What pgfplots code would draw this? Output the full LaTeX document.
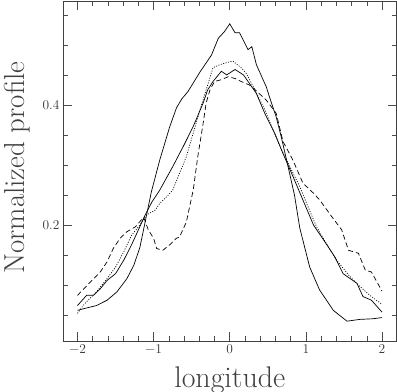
\documentclass[border=0pt]{standalone}
\usepackage{pgfplots}
\pgfplotsset{compat=1.18}
\newcommand{\tl}[1]{{\fontsize{13.5}{15}\selectfont #1}}
\begin{document}
\begin{tikzpicture}
\begin{axis}[
    scale only axis,
    width=333.5bp, height=340bp,
    xmin=-2.19, xmax=2.19,
    ymin=0.007, ymax=0.573,
    xtick={-2,-1,0,1,2},
    xticklabels={\tl{−2},\tl{−1},\tl{0},\tl{1},\tl{2}},
    minor xtick={-1.8,-1.6,-1.4,-1.2,-0.8,-0.6,-0.4,-0.2,0.2,0.4,0.6,0.8,1.2,1.4,1.6,1.8},
    ytick={0.2,0.4},
    yticklabels={\tl{0.2},\tl{0.4}},
    minor ytick={0.05,0.1,0.15,0.25,0.3,0.35,0.45,0.5,0.55},
    xtick pos=both, ytick pos=both,
    tick align=inside,
    major tick length=9bp,
    minor tick length=5bp,
    every tick/.style={black!70, line width=0.6bp},
    axis line style={black!75, line width=0.8bp},
    xticklabel style={text=black!80},
    yticklabel style={text=black!80},
    every axis x label/.style={at={(axis description cs:0.5,-0.115)}, anchor=center,
        font=\fontsize{30}{34}\selectfont, text=black!75},
    every axis y label/.style={at={(axis description cs:-0.138,0.51)}, rotate=90, anchor=center,
        font=\fontsize{29}{33}\selectfont, text=black!75},
    xlabel={longitude},
    ylabel={Normalized profile},
]
% narrow solid
\addplot[black, line width=0.7bp] coordinates {
(-2.00,0.058) (-1.88,0.062) (-1.75,0.066) (-1.61,0.075) (-1.48,0.089)
(-1.35,0.111) (-1.26,0.133) (-1.18,0.163) (-1.10,0.212) (-1.03,0.255)
(-0.92,0.308) (-0.79,0.363) (-0.70,0.395) (-0.63,0.410) (-0.55,0.422)
(-0.39,0.455) (-0.24,0.483) (-0.15,0.511) (-0.07,0.522) (0.00,0.535)
(0.07,0.520) (0.13,0.520) (0.24,0.492) (0.29,0.497) (0.35,0.467)
(0.48,0.430) (0.53,0.410) (0.61,0.380) (0.68,0.345) (0.77,0.295)
(0.85,0.250) (0.92,0.195) (1.05,0.130) (1.18,0.092) (1.36,0.058)
(1.54,0.040) (1.71,0.043) (1.88,0.044) (2.00,0.046)
};
% wide solid
\addplot[black, line width=0.7bp] coordinates {
(-2.00,0.066) (-1.88,0.083) (-1.79,0.083) (-1.70,0.094) (-1.61,0.108)
(-1.50,0.119) (-1.39,0.142) (-1.29,0.167) (-1.20,0.192) (-1.11,0.217)
(-1.02,0.239) (-0.92,0.258) (-0.75,0.297) (-0.61,0.331) (-0.48,0.364)
(-0.35,0.403) (-0.29,0.425) (-0.22,0.439) (-0.11,0.456) (-0.04,0.450)
(0.07,0.459) (0.18,0.450) (0.29,0.430) (0.35,0.419) (0.46,0.386)
(0.59,0.353) (0.70,0.319) (0.83,0.281) (0.96,0.242) (1.10,0.200)
(1.25,0.172) (1.38,0.147) (1.49,0.119) (1.67,0.103) (1.75,0.081)
(1.86,0.075) (2.00,0.055)
};
% dotted
\addplot[black, line width=0.7bp, dash pattern=on 1bp off 1.5bp] coordinates {
(-2.00,0.053) (-1.92,0.067) (-1.75,0.089) (-1.61,0.111) (-1.50,0.130)
(-1.39,0.156) (-1.29,0.183) (-1.18,0.200) (-1.09,0.217) (-0.98,0.225)
(-0.92,0.236) (-0.83,0.247) (-0.75,0.258) (-0.66,0.286) (-0.57,0.314)
(-0.48,0.353) (-0.39,0.392) (-0.31,0.425) (-0.22,0.462) (-0.13,0.467)
(-0.05,0.470) (0.04,0.473) (0.15,0.462) (0.22,0.452) (0.31,0.430)
(0.46,0.392) (0.57,0.358) (0.68,0.325) (0.79,0.297) (0.92,0.264)
(1.01,0.236) (1.14,0.197) (1.27,0.169) (1.40,0.142) (1.56,0.117)
(1.69,0.100) (1.84,0.083) (2.00,0.068)
};
% dashed
\addplot[black, line width=0.7bp, dash pattern=on 5bp off 3bp] coordinates {
(-2.00,0.083) (-1.87,0.100) (-1.70,0.122) (-1.61,0.139) (-1.53,0.161)
(-1.44,0.178) (-1.35,0.189) (-1.24,0.197) (-1.13,0.213) (-1.07,0.192)
(-1.00,0.178) (-0.96,0.161) (-0.88,0.158) (-0.79,0.167) (-0.70,0.178)
(-0.66,0.180) (-0.57,0.205) (-0.48,0.258) (-0.42,0.314) (-0.35,0.369)
(-0.31,0.403) (-0.26,0.425) (-0.20,0.439) (-0.11,0.442) (-0.02,0.447)
(0.07,0.444) (0.15,0.439) (0.26,0.433) (0.31,0.428) (0.48,0.408)
(0.61,0.386) (0.70,0.339) (0.83,0.308) (0.96,0.270) (1.10,0.253)
(1.18,0.242) (1.34,0.214) (1.47,0.192) (1.56,0.158) (1.69,0.153)
(1.78,0.125) (1.86,0.122) (2.00,0.090)
};
\end{axis}
\pgfresetboundingbox
\path[use as bounding box] ([xshift=-63bp,yshift=-51bp]current axis.south west)
    rectangle ([xshift=0.5bp,yshift=1bp]current axis.north east);
\end{tikzpicture}
\end{document}
